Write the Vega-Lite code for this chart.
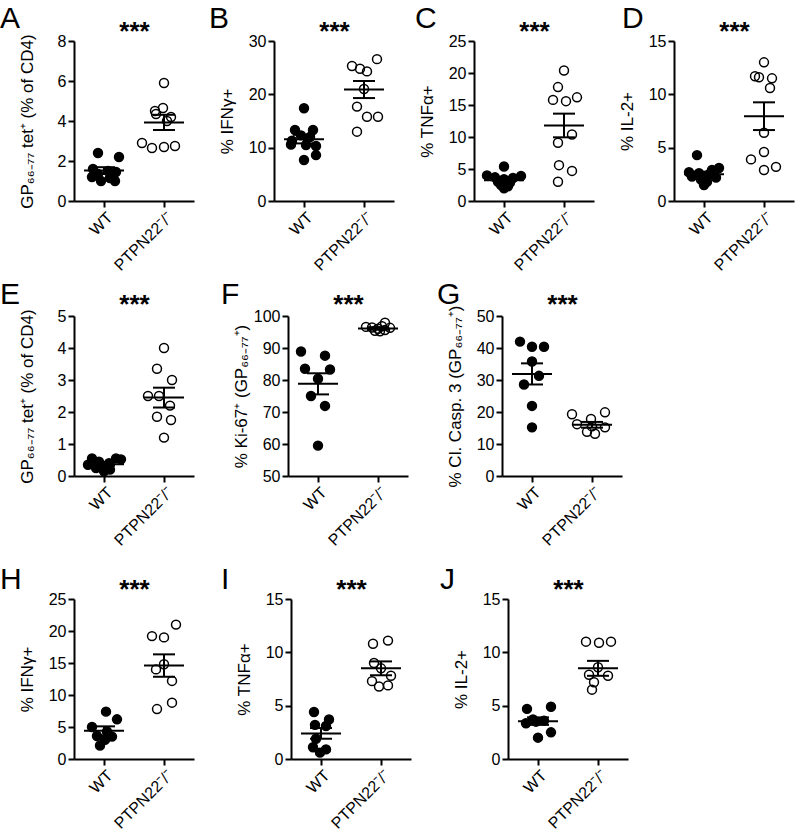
{
  "$schema": "https://vega.github.io/schema/vega-lite/v6.json",
  "background": "white",
  "padding": {"left": 0, "top": 4, "right": 5, "bottom": 2},
  "config": {
    "view": {"stroke": null},
    "font": "Liberation Sans",
    "axis": {"domainColor": "black", "domainWidth": 2, "tickColor": "black", "tickWidth": 2, "tickSize": 6, "labelColor": "black", "labelFont": "Liberation Sans", "labelFontSize": 16, "titleFont": "Liberation Sans", "titleFontSize": 17, "titleFontWeight": "normal", "titleColor": "black", "grid": false, "labelPadding": 2, "labelOverlap": false},
    "axisY": {"minExtent": 30, "maxExtent": 30, "titlePadding": 8, "tickCount": 12},
    "axisX": {"labelAngle": -45, "labelFontSize": 16},
    "title": {"font": "Liberation Sans", "fontSize": 30, "fontWeight": "normal", "color": "black", "anchor": "start", "frame": "group", "offset": 0}
  },
  "datasets": {
    "pts": [
      {"panel":"A","group":"WT","value":2.4,"jitter":-6},{"panel":"A","group":"WT","value":2.2,"jitter":15},{"panel":"A","group":"WT","value":1.6,"jitter":-11},{"panel":"A","group":"WT","value":1.5,"jitter":4},{"panel":"A","group":"WT","value":1.45,"jitter":12},{"panel":"A","group":"WT","value":1.35,"jitter":-6},{"panel":"A","group":"WT","value":1.2,"jitter":-12},{"panel":"A","group":"WT","value":1.15,"jitter":6},{"panel":"A","group":"WT","value":1.0,"jitter":-3},{"panel":"A","group":"WT","value":1.0,"jitter":11},
      {"panel":"A","group":"KO","value":5.9,"jitter":0},{"panel":"A","group":"KO","value":4.65,"jitter":-1},{"panel":"A","group":"KO","value":4.5,"jitter":-9},{"panel":"A","group":"KO","value":4.2,"jitter":7},{"panel":"A","group":"KO","value":4.35,"jitter":-8},{"panel":"A","group":"KO","value":4.0,"jitter":3},{"panel":"A","group":"KO","value":2.9,"jitter":-22},{"panel":"A","group":"KO","value":2.65,"jitter":-12},{"panel":"A","group":"KO","value":2.7,"jitter":0},{"panel":"A","group":"KO","value":2.75,"jitter":11},
      {"panel":"B","group":"WT","value":17.4,"jitter":0},{"panel":"B","group":"WT","value":13.3,"jitter":-9},{"panel":"B","group":"WT","value":13.3,"jitter":9},{"panel":"B","group":"WT","value":12.3,"jitter":-3},{"panel":"B","group":"WT","value":12.0,"jitter":6},{"panel":"B","group":"WT","value":11.3,"jitter":-12},{"panel":"B","group":"WT","value":10.6,"jitter":-13},{"panel":"B","group":"WT","value":10.5,"jitter":2},{"panel":"B","group":"WT","value":10.3,"jitter":12},{"panel":"B","group":"WT","value":8.6,"jitter":12},{"panel":"B","group":"WT","value":7.7,"jitter":0},
      {"panel":"B","group":"KO","value":25.3,"jitter":-12},{"panel":"B","group":"KO","value":24.8,"jitter":-4},{"panel":"B","group":"KO","value":24.3,"jitter":3},{"panel":"B","group":"KO","value":26.6,"jitter":13},{"panel":"B","group":"KO","value":21.0,"jitter":0},{"panel":"B","group":"KO","value":17.7,"jitter":-7},{"panel":"B","group":"KO","value":15.8,"jitter":3},{"panel":"B","group":"KO","value":15.8,"jitter":14},{"panel":"B","group":"KO","value":13.0,"jitter":-7},
      {"panel":"C","group":"WT","value":5.4,"jitter":0},{"panel":"C","group":"WT","value":4.0,"jitter":-17},{"panel":"C","group":"WT","value":3.9,"jitter":17},{"panel":"C","group":"WT","value":3.7,"jitter":-9},{"panel":"C","group":"WT","value":3.6,"jitter":9},{"panel":"C","group":"WT","value":3.4,"jitter":0},{"panel":"C","group":"WT","value":3.0,"jitter":-6},{"panel":"C","group":"WT","value":2.9,"jitter":6},{"panel":"C","group":"WT","value":2.5,"jitter":-3},{"panel":"C","group":"WT","value":2.3,"jitter":4},{"panel":"C","group":"WT","value":2.0,"jitter":0},
      {"panel":"C","group":"KO","value":20.4,"jitter":0},{"panel":"C","group":"KO","value":17.8,"jitter":-6},{"panel":"C","group":"KO","value":15.8,"jitter":-11},{"panel":"C","group":"KO","value":15.6,"jitter":2},{"panel":"C","group":"KO","value":16.2,"jitter":13},{"panel":"C","group":"KO","value":10.4,"jitter":8},{"panel":"C","group":"KO","value":9.1,"jitter":-6},{"panel":"C","group":"KO","value":5.6,"jitter":-5},{"panel":"C","group":"KO","value":4.7,"jitter":8},{"panel":"C","group":"KO","value":3.0,"jitter":-6},
      {"panel":"D","group":"WT","value":4.3,"jitter":-7},{"panel":"D","group":"WT","value":3.1,"jitter":15},{"panel":"D","group":"WT","value":2.9,"jitter":8},{"panel":"D","group":"WT","value":2.7,"jitter":-15},{"panel":"D","group":"WT","value":2.6,"jitter":-5},{"panel":"D","group":"WT","value":2.5,"jitter":5},{"panel":"D","group":"WT","value":2.3,"jitter":-12},{"panel":"D","group":"WT","value":2.2,"jitter":12},{"panel":"D","group":"WT","value":2.0,"jitter":-3},{"panel":"D","group":"WT","value":1.8,"jitter":3},{"panel":"D","group":"WT","value":1.5,"jitter":0},
      {"panel":"D","group":"KO","value":13.0,"jitter":0},{"panel":"D","group":"KO","value":11.7,"jitter":-9},{"panel":"D","group":"KO","value":11.6,"jitter":-5},{"panel":"D","group":"KO","value":11.5,"jitter":8},{"panel":"D","group":"KO","value":10.6,"jitter":6},{"panel":"D","group":"KO","value":6.4,"jitter":0},{"panel":"D","group":"KO","value":4.6,"jitter":0},{"panel":"D","group":"KO","value":3.9,"jitter":-13},{"panel":"D","group":"KO","value":3.2,"jitter":12},{"panel":"D","group":"KO","value":2.9,"jitter":0},
      {"panel":"E","group":"WT","value":0.55,"jitter":-12},{"panel":"E","group":"WT","value":0.55,"jitter":12},{"panel":"E","group":"WT","value":0.52,"jitter":17},{"panel":"E","group":"WT","value":0.45,"jitter":-5},{"panel":"E","group":"WT","value":0.4,"jitter":5},{"panel":"E","group":"WT","value":0.35,"jitter":-16},{"panel":"E","group":"WT","value":0.3,"jitter":0},{"panel":"E","group":"WT","value":0.25,"jitter":-8},{"panel":"E","group":"WT","value":0.2,"jitter":6},{"panel":"E","group":"WT","value":0.15,"jitter":0},
      {"panel":"E","group":"KO","value":4.0,"jitter":0},{"panel":"E","group":"KO","value":3.35,"jitter":-7},{"panel":"E","group":"KO","value":3.0,"jitter":8},{"panel":"E","group":"KO","value":2.5,"jitter":-16},{"panel":"E","group":"KO","value":2.5,"jitter":-5},{"panel":"E","group":"KO","value":2.2,"jitter":6},{"panel":"E","group":"KO","value":1.85,"jitter":-7},{"panel":"E","group":"KO","value":1.75,"jitter":7},{"panel":"E","group":"KO","value":1.2,"jitter":0},
      {"panel":"F","group":"WT","value":88.9,"jitter":-17},{"panel":"F","group":"WT","value":87.6,"jitter":7},{"panel":"F","group":"WT","value":83.5,"jitter":-13},{"panel":"F","group":"WT","value":83.3,"jitter":12},{"panel":"F","group":"WT","value":80.4,"jitter":0},{"panel":"F","group":"WT","value":75.0,"jitter":-7},{"panel":"F","group":"WT","value":71.9,"jitter":7},{"panel":"F","group":"WT","value":59.5,"jitter":0},
      {"panel":"F","group":"KO","value":97.9,"jitter":7},{"panel":"F","group":"KO","value":96.6,"jitter":-12},{"panel":"F","group":"KO","value":96.4,"jitter":-6},{"panel":"F","group":"KO","value":96.0,"jitter":0},{"panel":"F","group":"KO","value":95.4,"jitter":-3},{"panel":"F","group":"KO","value":95.2,"jitter":2},{"panel":"F","group":"KO","value":95.6,"jitter":7},{"panel":"F","group":"KO","value":96.3,"jitter":12},{"panel":"F","group":"KO","value":96.8,"jitter":4},
      {"panel":"G","group":"WT","value":42.0,"jitter":-12},{"panel":"G","group":"WT","value":40.4,"jitter":0},{"panel":"G","group":"WT","value":40.4,"jitter":12},{"panel":"G","group":"WT","value":35.8,"jitter":0},{"panel":"G","group":"WT","value":31.3,"jitter":7},{"panel":"G","group":"WT","value":28.6,"jitter":-8},{"panel":"G","group":"WT","value":21.9,"jitter":0},{"panel":"G","group":"WT","value":15.2,"jitter":0},
      {"panel":"G","group":"KO","value":19.3,"jitter":-20},{"panel":"G","group":"KO","value":17.8,"jitter":-1},{"panel":"G","group":"KO","value":19.9,"jitter":13},{"panel":"G","group":"KO","value":16.2,"jitter":-15},{"panel":"G","group":"KO","value":15.5,"jitter":0},{"panel":"G","group":"KO","value":15.2,"jitter":13},{"panel":"G","group":"KO","value":13.8,"jitter":-5},{"panel":"G","group":"KO","value":13.2,"jitter":3},
      {"panel":"H","group":"WT","value":7.4,"jitter":2},{"panel":"H","group":"WT","value":6.2,"jitter":13},{"panel":"H","group":"WT","value":5.0,"jitter":-12},{"panel":"H","group":"WT","value":4.3,"jitter":3},{"panel":"H","group":"WT","value":3.6,"jitter":-7},{"panel":"H","group":"WT","value":3.5,"jitter":8},{"panel":"H","group":"WT","value":3.0,"jitter":1},{"panel":"H","group":"WT","value":2.1,"jitter":-4},
      {"panel":"H","group":"KO","value":19.2,"jitter":-12},{"panel":"H","group":"KO","value":19.0,"jitter":0},{"panel":"H","group":"KO","value":21.0,"jitter":12},{"panel":"H","group":"KO","value":14.0,"jitter":-8},{"panel":"H","group":"KO","value":14.8,"jitter":0},{"panel":"H","group":"KO","value":12.2,"jitter":8},{"panel":"H","group":"KO","value":7.8,"jitter":-7},{"panel":"H","group":"KO","value":8.8,"jitter":8},
      {"panel":"I","group":"WT","value":4.4,"jitter":-7},{"panel":"I","group":"WT","value":3.7,"jitter":8},{"panel":"I","group":"WT","value":3.2,"jitter":-6},{"panel":"I","group":"WT","value":3.1,"jitter":5},{"panel":"I","group":"WT","value":1.9,"jitter":-5},{"panel":"I","group":"WT","value":1.1,"jitter":-8},{"panel":"I","group":"WT","value":0.9,"jitter":5},{"panel":"I","group":"WT","value":0.6,"jitter":-1},
      {"panel":"I","group":"KO","value":10.8,"jitter":-8},{"panel":"I","group":"KO","value":11.1,"jitter":7},{"panel":"I","group":"KO","value":9.0,"jitter":-7},{"panel":"I","group":"KO","value":8.5,"jitter":0},{"panel":"I","group":"KO","value":7.8,"jitter":10},{"panel":"I","group":"KO","value":7.3,"jitter":-9},{"panel":"I","group":"KO","value":6.8,"jitter":-2},{"panel":"I","group":"KO","value":6.9,"jitter":7},
      {"panel":"J","group":"WT","value":4.7,"jitter":-11},{"panel":"J","group":"WT","value":4.9,"jitter":13},{"panel":"J","group":"WT","value":3.35,"jitter":-12},{"panel":"J","group":"WT","value":3.7,"jitter":-5},{"panel":"J","group":"WT","value":3.5,"jitter":-2},{"panel":"J","group":"WT","value":3.6,"jitter":6},{"panel":"J","group":"WT","value":2.5,"jitter":13},{"panel":"J","group":"WT","value":2.0,"jitter":0},
      {"panel":"J","group":"KO","value":11.0,"jitter":-12},{"panel":"J","group":"KO","value":10.9,"jitter":1},{"panel":"J","group":"KO","value":11.0,"jitter":13},{"panel":"J","group":"KO","value":8.6,"jitter":0},{"panel":"J","group":"KO","value":7.9,"jitter":-9},{"panel":"J","group":"KO","value":7.8,"jitter":10},{"panel":"J","group":"KO","value":7.2,"jitter":-4},{"panel":"J","group":"KO","value":6.5,"jitter":-6}
    ],
    "sum": [
      {"panel":"A","group":"WT","mean":1.52,"lo":1.35,"hi":1.69},{"panel":"A","group":"KO","mean":3.93,"lo":3.55,"hi":4.31},
      {"panel":"B","group":"WT","mean":11.6,"lo":10.8,"hi":12.4},{"panel":"B","group":"KO","mean":20.9,"lo":19.3,"hi":22.5},
      {"panel":"C","group":"WT","mean":3.25,"lo":2.95,"hi":3.55},{"panel":"C","group":"KO","mean":11.8,"lo":9.95,"hi":13.65},
      {"panel":"D","group":"WT","mean":2.5,"lo":2.25,"hi":2.75},{"panel":"D","group":"KO","mean":7.95,"lo":6.65,"hi":9.25},
      {"panel":"E","group":"WT","mean":0.37,"lo":0.32,"hi":0.42},{"panel":"E","group":"KO","mean":2.45,"lo":2.14,"hi":2.76},
      {"panel":"F","group":"WT","mean":78.8,"lo":75.5,"hi":82.1},{"panel":"F","group":"KO","mean":96.1,"lo":95.7,"hi":96.5},
      {"panel":"G","group":"WT","mean":31.9,"lo":28.6,"hi":35.2},{"panel":"G","group":"KO","mean":16.0,"lo":15.1,"hi":16.9},
      {"panel":"H","group":"WT","mean":4.4,"lo":3.7,"hi":5.1},{"panel":"H","group":"KO","mean":14.6,"lo":12.85,"hi":16.35},
      {"panel":"I","group":"WT","mean":2.4,"lo":1.9,"hi":2.9},{"panel":"I","group":"KO","mean":8.5,"lo":7.85,"hi":9.15},
      {"panel":"J","group":"WT","mean":3.55,"lo":3.2,"hi":3.9},{"panel":"J","group":"KO","mean":8.5,"lo":7.8,"hi":9.2}
    ]
  },
  "spacing": 6,
  "vconcat": [
    {"hconcat": [
      {"width":120,"height":160,"title":{"text":"A","dx":-74,"dy":20},"resolve":{"axis":{"x":"independent"}},
       "encoding":{"x":{"field":"group","type":"nominal","scale":{"type":"point","domain":["WT","KO"],"padding":0.5},"axis":null}},
       "layer":[
        {"data":{"name":"pts"},"transform":[{"filter":"datum.panel === 'A'"}],"mark":{"type":"point","shape":"circle","size":80,"strokeWidth":1.5,"stroke":"black","opacity":1},
         "encoding":{"x":{"field":"group","type":"nominal","scale":{"type":"point","domain":["WT","KO"],"padding":0.5},"axis":{"title":null,"labelExpr":"datum.value === 'KO' ? 'PTPN22⁻/⁻' : 'WT'"}},"xOffset":{"field":"jitter","type":"quantitative","scale":{"domain":[-30,30],"range":[-30,30]}},"y":{"field":"value","type":"quantitative","scale":{"domain":[0,8],"nice":false,"zero":false},"axis":{"values":[0,2,4,6,8],"format":"d","tickCount":12,"title":"GP₆₆₋₇₇ tet⁺  (% of CD4)"}},"fill":{"field":"group","type":"nominal","scale":{"domain":["WT","KO"],"range":["black","transparent"]},"legend":null}}},
        {"data":{"name":"sum"},"transform":[{"filter":"datum.panel === 'A'"}],"mark":{"type":"tick","size":40,"thickness":2,"color":"black","opacity":1},
         "encoding":{"x":{"field":"group","type":"nominal","scale":{"type":"point","domain":["WT","KO"],"padding":0.5},"axis":{"orient":"top","title":"***","labels":false,"ticks":false,"domain":false,"titleFontSize":26,"titleFontWeight":"bold","titlePadding":-3}},"y":{"field":"mean","type":"quantitative"}}},
        {"data":{"name":"sum"},"transform":[{"filter":"datum.panel === 'A'"}],"mark":{"type":"tick","size":22,"thickness":2,"color":"black","opacity":1},"encoding":{"y":{"field":"lo","type":"quantitative"}}},
        {"data":{"name":"sum"},"transform":[{"filter":"datum.panel === 'A'"}],"mark":{"type":"tick","size":22,"thickness":2,"color":"black","opacity":1},"encoding":{"y":{"field":"hi","type":"quantitative"}}},
        {"data":{"name":"sum"},"transform":[{"filter":"datum.panel === 'A'"}],"mark":{"type":"rule","strokeWidth":2,"color":"black"},"encoding":{"y":{"field":"lo","type":"quantitative"},"y2":{"field":"hi"}}}
       ]},
      {"width":120,"height":160,"title":{"text":"B","dx":-65,"dy":20},"resolve":{"axis":{"x":"independent"}},
       "encoding":{"x":{"field":"group","type":"nominal","scale":{"type":"point","domain":["WT","KO"],"padding":0.5},"axis":null}},
       "layer":[
        {"data":{"name":"pts"},"transform":[{"filter":"datum.panel === 'B'"}],"mark":{"type":"point","shape":"circle","size":80,"strokeWidth":1.5,"stroke":"black","opacity":1},
         "encoding":{"x":{"field":"group","type":"nominal","scale":{"type":"point","domain":["WT","KO"],"padding":0.5},"axis":{"title":null,"labelExpr":"datum.value === 'KO' ? 'PTPN22⁻/⁻' : 'WT'"}},"xOffset":{"field":"jitter","type":"quantitative","scale":{"domain":[-30,30],"range":[-30,30]}},"y":{"field":"value","type":"quantitative","scale":{"domain":[0,30],"nice":false,"zero":false},"axis":{"values":[0,10,20,30],"format":"d","tickCount":12,"title":"% IFNγ+"}},"fill":{"field":"group","type":"nominal","scale":{"domain":["WT","KO"],"range":["black","transparent"]},"legend":null}}},
        {"data":{"name":"sum"},"transform":[{"filter":"datum.panel === 'B'"}],"mark":{"type":"tick","size":40,"thickness":2,"color":"black","opacity":1},
         "encoding":{"x":{"field":"group","type":"nominal","scale":{"type":"point","domain":["WT","KO"],"padding":0.5},"axis":{"orient":"top","title":"***","labels":false,"ticks":false,"domain":false,"titleFontSize":26,"titleFontWeight":"bold","titlePadding":-3}},"y":{"field":"mean","type":"quantitative"}}},
        {"data":{"name":"sum"},"transform":[{"filter":"datum.panel === 'B'"}],"mark":{"type":"tick","size":22,"thickness":2,"color":"black","opacity":1},"encoding":{"y":{"field":"lo","type":"quantitative"}}},
        {"data":{"name":"sum"},"transform":[{"filter":"datum.panel === 'B'"}],"mark":{"type":"tick","size":22,"thickness":2,"color":"black","opacity":1},"encoding":{"y":{"field":"hi","type":"quantitative"}}},
        {"data":{"name":"sum"},"transform":[{"filter":"datum.panel === 'B'"}],"mark":{"type":"rule","strokeWidth":2,"color":"black"},"encoding":{"y":{"field":"lo","type":"quantitative"},"y2":{"field":"hi"}}}
       ]},
      {"width":120,"height":160,"title":{"text":"C","dx":-59,"dy":20},"resolve":{"axis":{"x":"independent"}},
       "encoding":{"x":{"field":"group","type":"nominal","scale":{"type":"point","domain":["WT","KO"],"padding":0.5},"axis":null}},
       "layer":[
        {"data":{"name":"pts"},"transform":[{"filter":"datum.panel === 'C'"}],"mark":{"type":"point","shape":"circle","size":80,"strokeWidth":1.5,"stroke":"black","opacity":1},
         "encoding":{"x":{"field":"group","type":"nominal","scale":{"type":"point","domain":["WT","KO"],"padding":0.5},"axis":{"title":null,"labelExpr":"datum.value === 'KO' ? 'PTPN22⁻/⁻' : 'WT'"}},"xOffset":{"field":"jitter","type":"quantitative","scale":{"domain":[-30,30],"range":[-30,30]}},"y":{"field":"value","type":"quantitative","scale":{"domain":[0,25],"nice":false,"zero":false},"axis":{"values":[0,5,10,15,20,25],"format":"d","tickCount":12,"title":"% TNFα+"}},"fill":{"field":"group","type":"nominal","scale":{"domain":["WT","KO"],"range":["black","transparent"]},"legend":null}}},
        {"data":{"name":"sum"},"transform":[{"filter":"datum.panel === 'C'"}],"mark":{"type":"tick","size":40,"thickness":2,"color":"black","opacity":1},
         "encoding":{"x":{"field":"group","type":"nominal","scale":{"type":"point","domain":["WT","KO"],"padding":0.5},"axis":{"orient":"top","title":"***","labels":false,"ticks":false,"domain":false,"titleFontSize":26,"titleFontWeight":"bold","titlePadding":-3}},"y":{"field":"mean","type":"quantitative"}}},
        {"data":{"name":"sum"},"transform":[{"filter":"datum.panel === 'C'"}],"mark":{"type":"tick","size":22,"thickness":2,"color":"black","opacity":1},"encoding":{"y":{"field":"lo","type":"quantitative"}}},
        {"data":{"name":"sum"},"transform":[{"filter":"datum.panel === 'C'"}],"mark":{"type":"tick","size":22,"thickness":2,"color":"black","opacity":1},"encoding":{"y":{"field":"hi","type":"quantitative"}}},
        {"data":{"name":"sum"},"transform":[{"filter":"datum.panel === 'C'"}],"mark":{"type":"rule","strokeWidth":2,"color":"black"},"encoding":{"y":{"field":"lo","type":"quantitative"},"y2":{"field":"hi"}}}
       ]},
      {"width":120,"height":160,"title":{"text":"D","dx":-52,"dy":20},"resolve":{"axis":{"x":"independent"}},
       "encoding":{"x":{"field":"group","type":"nominal","scale":{"type":"point","domain":["WT","KO"],"padding":0.5},"axis":null}},
       "layer":[
        {"data":{"name":"pts"},"transform":[{"filter":"datum.panel === 'D'"}],"mark":{"type":"point","shape":"circle","size":80,"strokeWidth":1.5,"stroke":"black","opacity":1},
         "encoding":{"x":{"field":"group","type":"nominal","scale":{"type":"point","domain":["WT","KO"],"padding":0.5},"axis":{"title":null,"labelExpr":"datum.value === 'KO' ? 'PTPN22⁻/⁻' : 'WT'"}},"xOffset":{"field":"jitter","type":"quantitative","scale":{"domain":[-30,30],"range":[-30,30]}},"y":{"field":"value","type":"quantitative","scale":{"domain":[0,15],"nice":false,"zero":false},"axis":{"values":[0,5,10,15],"format":"d","tickCount":12,"title":"% IL-2+"}},"fill":{"field":"group","type":"nominal","scale":{"domain":["WT","KO"],"range":["black","transparent"]},"legend":null}}},
        {"data":{"name":"sum"},"transform":[{"filter":"datum.panel === 'D'"}],"mark":{"type":"tick","size":40,"thickness":2,"color":"black","opacity":1},
         "encoding":{"x":{"field":"group","type":"nominal","scale":{"type":"point","domain":["WT","KO"],"padding":0.5},"axis":{"orient":"top","title":"***","labels":false,"ticks":false,"domain":false,"titleFontSize":26,"titleFontWeight":"bold","titlePadding":-3}},"y":{"field":"mean","type":"quantitative"}}},
        {"data":{"name":"sum"},"transform":[{"filter":"datum.panel === 'D'"}],"mark":{"type":"tick","size":22,"thickness":2,"color":"black","opacity":1},"encoding":{"y":{"field":"lo","type":"quantitative"}}},
        {"data":{"name":"sum"},"transform":[{"filter":"datum.panel === 'D'"}],"mark":{"type":"tick","size":22,"thickness":2,"color":"black","opacity":1},"encoding":{"y":{"field":"hi","type":"quantitative"}}},
        {"data":{"name":"sum"},"transform":[{"filter":"datum.panel === 'D'"}],"mark":{"type":"rule","strokeWidth":2,"color":"black"},"encoding":{"y":{"field":"lo","type":"quantitative"},"y2":{"field":"hi"}}}
       ]}
    ], "spacing": 80, "bounds": "flush"},
    {"spacing": 16, "vconcat": [
    {"hconcat": [
      {"width":120,"height":160,"title":{"text":"E","dx":-74,"dy":23},"resolve":{"axis":{"x":"independent"}},
       "encoding":{"x":{"field":"group","type":"nominal","scale":{"type":"point","domain":["WT","KO"],"padding":0.5},"axis":null}},
       "layer":[
        {"data":{"name":"pts"},"transform":[{"filter":"datum.panel === 'E'"}],"mark":{"type":"point","shape":"circle","size":80,"strokeWidth":1.5,"stroke":"black","opacity":1},
         "encoding":{"x":{"field":"group","type":"nominal","scale":{"type":"point","domain":["WT","KO"],"padding":0.5},"axis":{"title":null,"labelExpr":"datum.value === 'KO' ? 'PTPN22⁻/⁻' : 'WT'"}},"xOffset":{"field":"jitter","type":"quantitative","scale":{"domain":[-30,30],"range":[-30,30]}},"y":{"field":"value","type":"quantitative","scale":{"domain":[0,5],"nice":false,"zero":false},"axis":{"values":[0,1,2,3,4,5],"format":"d","tickCount":12,"title":"GP₆₆₋₇₇ tet⁺  (% of CD4)"}},"fill":{"field":"group","type":"nominal","scale":{"domain":["WT","KO"],"range":["black","transparent"]},"legend":null}}},
        {"data":{"name":"sum"},"transform":[{"filter":"datum.panel === 'E'"}],"mark":{"type":"tick","size":40,"thickness":2,"color":"black","opacity":1},
         "encoding":{"x":{"field":"group","type":"nominal","scale":{"type":"point","domain":["WT","KO"],"padding":0.5},"axis":{"orient":"top","title":"***","labels":false,"ticks":false,"domain":false,"titleFontSize":26,"titleFontWeight":"bold","titlePadding":-1}},"y":{"field":"mean","type":"quantitative"}}},
        {"data":{"name":"sum"},"transform":[{"filter":"datum.panel === 'E'"}],"mark":{"type":"tick","size":22,"thickness":2,"color":"black","opacity":1},"encoding":{"y":{"field":"lo","type":"quantitative"}}},
        {"data":{"name":"sum"},"transform":[{"filter":"datum.panel === 'E'"}],"mark":{"type":"tick","size":22,"thickness":2,"color":"black","opacity":1},"encoding":{"y":{"field":"hi","type":"quantitative"}}},
        {"data":{"name":"sum"},"transform":[{"filter":"datum.panel === 'E'"}],"mark":{"type":"rule","strokeWidth":2,"color":"black"},"encoding":{"y":{"field":"lo","type":"quantitative"},"y2":{"field":"hi"}}}
       ]},
      {"width":120,"height":160,"title":{"text":"F","dx":-67,"dy":23},"resolve":{"axis":{"x":"independent"}},
       "encoding":{"x":{"field":"group","type":"nominal","scale":{"type":"point","domain":["WT","KO"],"padding":0.5},"axis":null}},
       "layer":[
        {"data":{"name":"pts"},"transform":[{"filter":"datum.panel === 'F'"}],"mark":{"type":"point","shape":"circle","size":80,"strokeWidth":1.5,"stroke":"black","opacity":1},
         "encoding":{"x":{"field":"group","type":"nominal","scale":{"type":"point","domain":["WT","KO"],"padding":0.5},"axis":{"title":null,"labelExpr":"datum.value === 'KO' ? 'PTPN22⁻/⁻' : 'WT'"}},"xOffset":{"field":"jitter","type":"quantitative","scale":{"domain":[-30,30],"range":[-30,30]}},"y":{"field":"value","type":"quantitative","scale":{"domain":[50,100],"nice":false,"zero":false},"axis":{"values":[50,60,70,80,90,100],"format":"d","tickCount":12,"title":"% Ki-67⁺ (GP₆₆₋₇₇⁺)"}},"fill":{"field":"group","type":"nominal","scale":{"domain":["WT","KO"],"range":["black","transparent"]},"legend":null}}},
        {"data":{"name":"sum"},"transform":[{"filter":"datum.panel === 'F'"}],"mark":{"type":"tick","size":40,"thickness":2,"color":"black","opacity":1},
         "encoding":{"x":{"field":"group","type":"nominal","scale":{"type":"point","domain":["WT","KO"],"padding":0.5},"axis":{"orient":"top","title":"***","labels":false,"ticks":false,"domain":false,"titleFontSize":26,"titleFontWeight":"bold","titlePadding":-1}},"y":{"field":"mean","type":"quantitative"}}},
        {"data":{"name":"sum"},"transform":[{"filter":"datum.panel === 'F'"}],"mark":{"type":"tick","size":22,"thickness":2,"color":"black","opacity":1},"encoding":{"y":{"field":"lo","type":"quantitative"}}},
        {"data":{"name":"sum"},"transform":[{"filter":"datum.panel === 'F'"}],"mark":{"type":"tick","size":22,"thickness":2,"color":"black","opacity":1},"encoding":{"y":{"field":"hi","type":"quantitative"}}},
        {"data":{"name":"sum"},"transform":[{"filter":"datum.panel === 'F'"}],"mark":{"type":"rule","strokeWidth":2,"color":"black"},"encoding":{"y":{"field":"lo","type":"quantitative"},"y2":{"field":"hi"}}}
       ]},
      {"width":120,"height":160,"title":{"text":"G","dx":-65,"dy":23},"resolve":{"axis":{"x":"independent"}},
       "encoding":{"x":{"field":"group","type":"nominal","scale":{"type":"point","domain":["WT","KO"],"padding":0.5},"axis":null}},
       "layer":[
        {"data":{"name":"pts"},"transform":[{"filter":"datum.panel === 'G'"}],"mark":{"type":"point","shape":"circle","size":80,"strokeWidth":1.5,"stroke":"black","opacity":1},
         "encoding":{"x":{"field":"group","type":"nominal","scale":{"type":"point","domain":["WT","KO"],"padding":0.5},"axis":{"title":null,"labelExpr":"datum.value === 'KO' ? 'PTPN22⁻/⁻' : 'WT'"}},"xOffset":{"field":"jitter","type":"quantitative","scale":{"domain":[-30,30],"range":[-30,30]}},"y":{"field":"value","type":"quantitative","scale":{"domain":[0,50],"nice":false,"zero":false},"axis":{"values":[0,10,20,30,40,50],"format":"d","tickCount":12,"title":"% Cl. Casp. 3 (GP₆₆₋₇₇⁺)"}},"fill":{"field":"group","type":"nominal","scale":{"domain":["WT","KO"],"range":["black","transparent"]},"legend":null}}},
        {"data":{"name":"sum"},"transform":[{"filter":"datum.panel === 'G'"}],"mark":{"type":"tick","size":40,"thickness":2,"color":"black","opacity":1},
         "encoding":{"x":{"field":"group","type":"nominal","scale":{"type":"point","domain":["WT","KO"],"padding":0.5},"axis":{"orient":"top","title":"***","labels":false,"ticks":false,"domain":false,"titleFontSize":26,"titleFontWeight":"bold","titlePadding":-1}},"y":{"field":"mean","type":"quantitative"}}},
        {"data":{"name":"sum"},"transform":[{"filter":"datum.panel === 'G'"}],"mark":{"type":"tick","size":22,"thickness":2,"color":"black","opacity":1},"encoding":{"y":{"field":"lo","type":"quantitative"}}},
        {"data":{"name":"sum"},"transform":[{"filter":"datum.panel === 'G'"}],"mark":{"type":"tick","size":22,"thickness":2,"color":"black","opacity":1},"encoding":{"y":{"field":"hi","type":"quantitative"}}},
        {"data":{"name":"sum"},"transform":[{"filter":"datum.panel === 'G'"}],"mark":{"type":"rule","strokeWidth":2,"color":"black"},"encoding":{"y":{"field":"lo","type":"quantitative"},"y2":{"field":"hi"}}}
       ]}
    ], "spacing": 94, "bounds": "flush"},
    {"hconcat": [
      {"width":120,"height":160,"title":{"text":"H","dx":-74,"dy":23},"resolve":{"axis":{"x":"independent"}},
       "encoding":{"x":{"field":"group","type":"nominal","scale":{"type":"point","domain":["WT","KO"],"padding":0.5},"axis":null}},
       "layer":[
        {"data":{"name":"pts"},"transform":[{"filter":"datum.panel === 'H'"}],"mark":{"type":"point","shape":"circle","size":80,"strokeWidth":1.5,"stroke":"black","opacity":1},
         "encoding":{"x":{"field":"group","type":"nominal","scale":{"type":"point","domain":["WT","KO"],"padding":0.5},"axis":{"title":null,"labelExpr":"datum.value === 'KO' ? 'PTPN22⁻/⁻' : 'WT'"}},"xOffset":{"field":"jitter","type":"quantitative","scale":{"domain":[-30,30],"range":[-30,30]}},"y":{"field":"value","type":"quantitative","scale":{"domain":[0,25],"nice":false,"zero":false},"axis":{"values":[0,5,10,15,20,25],"format":"d","tickCount":12,"title":"% IFNγ+"}},"fill":{"field":"group","type":"nominal","scale":{"domain":["WT","KO"],"range":["black","transparent"]},"legend":null}}},
        {"data":{"name":"sum"},"transform":[{"filter":"datum.panel === 'H'"}],"mark":{"type":"tick","size":40,"thickness":2,"color":"black","opacity":1},
         "encoding":{"x":{"field":"group","type":"nominal","scale":{"type":"point","domain":["WT","KO"],"padding":0.5},"axis":{"orient":"top","title":"***","labels":false,"ticks":false,"domain":false,"titleFontSize":26,"titleFontWeight":"bold","titlePadding":-3}},"y":{"field":"mean","type":"quantitative"}}},
        {"data":{"name":"sum"},"transform":[{"filter":"datum.panel === 'H'"}],"mark":{"type":"tick","size":22,"thickness":2,"color":"black","opacity":1},"encoding":{"y":{"field":"lo","type":"quantitative"}}},
        {"data":{"name":"sum"},"transform":[{"filter":"datum.panel === 'H'"}],"mark":{"type":"tick","size":22,"thickness":2,"color":"black","opacity":1},"encoding":{"y":{"field":"hi","type":"quantitative"}}},
        {"data":{"name":"sum"},"transform":[{"filter":"datum.panel === 'H'"}],"mark":{"type":"rule","strokeWidth":2,"color":"black"},"encoding":{"y":{"field":"lo","type":"quantitative"},"y2":{"field":"hi"}}}
       ]},
      {"width":120,"height":160,"title":{"text":"I","dx":-70,"dy":23},"resolve":{"axis":{"x":"independent"}},
       "encoding":{"x":{"field":"group","type":"nominal","scale":{"type":"point","domain":["WT","KO"],"padding":0.5},"axis":null}},
       "layer":[
        {"data":{"name":"pts"},"transform":[{"filter":"datum.panel === 'I'"}],"mark":{"type":"point","shape":"circle","size":80,"strokeWidth":1.5,"stroke":"black","opacity":1},
         "encoding":{"x":{"field":"group","type":"nominal","scale":{"type":"point","domain":["WT","KO"],"padding":0.5},"axis":{"title":null,"labelExpr":"datum.value === 'KO' ? 'PTPN22⁻/⁻' : 'WT'"}},"xOffset":{"field":"jitter","type":"quantitative","scale":{"domain":[-30,30],"range":[-30,30]}},"y":{"field":"value","type":"quantitative","scale":{"domain":[0,15],"nice":false,"zero":false},"axis":{"values":[0,5,10,15],"format":"d","tickCount":12,"title":"% TNFα+"}},"fill":{"field":"group","type":"nominal","scale":{"domain":["WT","KO"],"range":["black","transparent"]},"legend":null}}},
        {"data":{"name":"sum"},"transform":[{"filter":"datum.panel === 'I'"}],"mark":{"type":"tick","size":40,"thickness":2,"color":"black","opacity":1},
         "encoding":{"x":{"field":"group","type":"nominal","scale":{"type":"point","domain":["WT","KO"],"padding":0.5},"axis":{"orient":"top","title":"***","labels":false,"ticks":false,"domain":false,"titleFontSize":26,"titleFontWeight":"bold","titlePadding":-3}},"y":{"field":"mean","type":"quantitative"}}},
        {"data":{"name":"sum"},"transform":[{"filter":"datum.panel === 'I'"}],"mark":{"type":"tick","size":22,"thickness":2,"color":"black","opacity":1},"encoding":{"y":{"field":"lo","type":"quantitative"}}},
        {"data":{"name":"sum"},"transform":[{"filter":"datum.panel === 'I'"}],"mark":{"type":"tick","size":22,"thickness":2,"color":"black","opacity":1},"encoding":{"y":{"field":"hi","type":"quantitative"}}},
        {"data":{"name":"sum"},"transform":[{"filter":"datum.panel === 'I'"}],"mark":{"type":"rule","strokeWidth":2,"color":"black"},"encoding":{"y":{"field":"lo","type":"quantitative"},"y2":{"field":"hi"}}}
       ]},
      {"width":120,"height":160,"title":{"text":"J","dx":-68,"dy":23},"resolve":{"axis":{"x":"independent"}},
       "encoding":{"x":{"field":"group","type":"nominal","scale":{"type":"point","domain":["WT","KO"],"padding":0.5},"axis":null}},
       "layer":[
        {"data":{"name":"pts"},"transform":[{"filter":"datum.panel === 'J'"}],"mark":{"type":"point","shape":"circle","size":80,"strokeWidth":1.5,"stroke":"black","opacity":1},
         "encoding":{"x":{"field":"group","type":"nominal","scale":{"type":"point","domain":["WT","KO"],"padding":0.5},"axis":{"title":null,"labelExpr":"datum.value === 'KO' ? 'PTPN22⁻/⁻' : 'WT'"}},"xOffset":{"field":"jitter","type":"quantitative","scale":{"domain":[-30,30],"range":[-30,30]}},"y":{"field":"value","type":"quantitative","scale":{"domain":[0,15],"nice":false,"zero":false},"axis":{"values":[0,5,10,15],"format":"d","tickCount":12,"title":"% IL-2+"}},"fill":{"field":"group","type":"nominal","scale":{"domain":["WT","KO"],"range":["black","transparent"]},"legend":null}}},
        {"data":{"name":"sum"},"transform":[{"filter":"datum.panel === 'J'"}],"mark":{"type":"tick","size":40,"thickness":2,"color":"black","opacity":1},
         "encoding":{"x":{"field":"group","type":"nominal","scale":{"type":"point","domain":["WT","KO"],"padding":0.5},"axis":{"orient":"top","title":"***","labels":false,"ticks":false,"domain":false,"titleFontSize":26,"titleFontWeight":"bold","titlePadding":-3}},"y":{"field":"mean","type":"quantitative"}}},
        {"data":{"name":"sum"},"transform":[{"filter":"datum.panel === 'J'"}],"mark":{"type":"tick","size":22,"thickness":2,"color":"black","opacity":1},"encoding":{"y":{"field":"lo","type":"quantitative"}}},
        {"data":{"name":"sum"},"transform":[{"filter":"datum.panel === 'J'"}],"mark":{"type":"tick","size":22,"thickness":2,"color":"black","opacity":1},"encoding":{"y":{"field":"hi","type":"quantitative"}}},
        {"data":{"name":"sum"},"transform":[{"filter":"datum.panel === 'J'"}],"mark":{"type":"rule","strokeWidth":2,"color":"black"},"encoding":{"y":{"field":"lo","type":"quantitative"},"y2":{"field":"hi"}}}
       ]}
    ], "spacing": 97, "bounds": "flush"}
    ]}
  ]
}
